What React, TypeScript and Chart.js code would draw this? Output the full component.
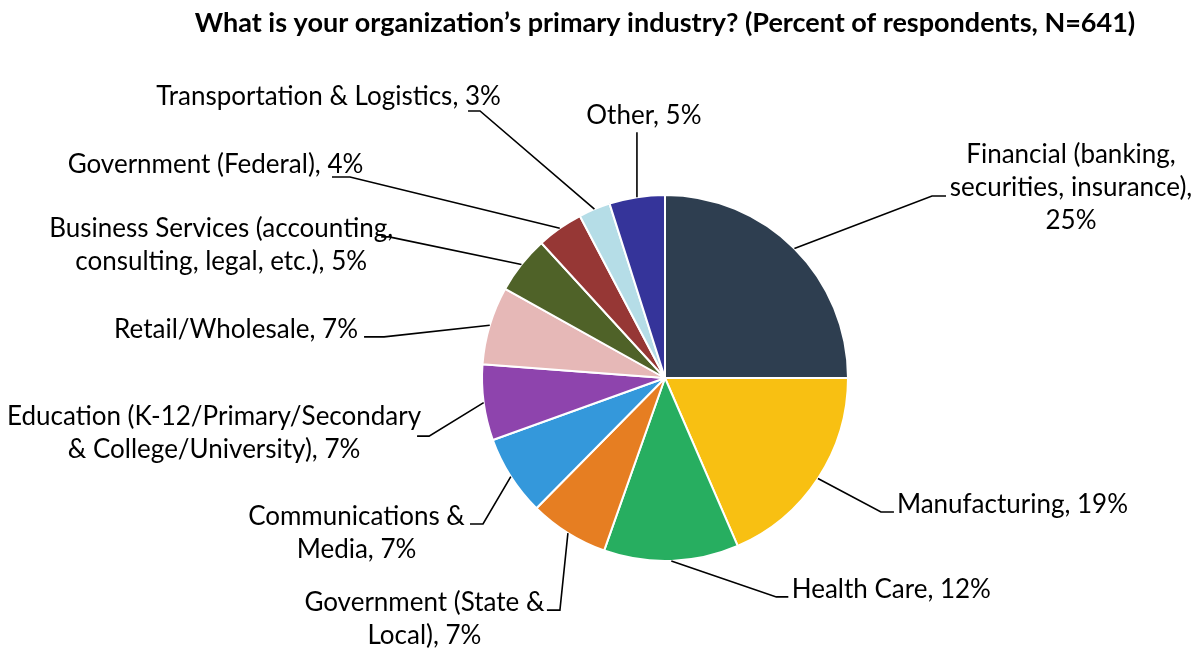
import React, { useEffect, useRef } from "react";
import { Chart, registerables } from "chart.js";

Chart.register(...registerables);

const TITLE = "What is your organization\u2019s primary industry? (Percent of respondents, N=641)";

const categories: string[][] = [
  ["Financial (banking,", "securities, insurance),"],
  ["Manufacturing"],
  ["Health Care"],
  ["Government (State &", "Local)"],
  ["Communications &", "Media"],
  ["Education (K-12/Primary/Secondary", "& College/University)"],
  ["Retail/Wholesale"],
  ["Business Services (accounting,", "consulting, legal, etc.)"],
  ["Government (Federal)"],
  ["Transportation & Logistics"],
  ["Other"],
];

const percentValues: number[] = [25.0, 18.5, 11.9, 7.0, 7.1, 6.7, 6.9, 5.1, 4.1, 2.8, 4.9];

const sliceColors: string[] = [
  "#2E3E50", "#F8C012", "#27AE60", "#E67E22", "#3498DB", "#8E44AD",
  "#E6B8B7", "#4F6228", "#963735", "#B5DDE7", "#35349A",
];

// label layout: text-block center offset (tx,ty) from slice edge anchor,
// elbow offset (ex,ey) from anchor, horizontal segment length sx from elbow
const labelLayout = [
  { tx: 276.6, ty: -60.6, ex: 137.6, ey: -52.6, sx: 14 },
  { tx: 194.5, ty: 26.5, ex: 63, ey: 33.5, sx: 13 },
  { tx: 220, ty: 29, ex: 105, ey: 36, sx: 12 },
  { tx: -143.5, ty: 86, ex: -8, ey: 77, sx: -13 },
  { tx: -154.3, ty: 57, ex: -27.8, ey: 47.4, sx: -13 },
  { tx: -269.6, ty: 30, ex: -54.6, ey: 33.5, sx: -12 },
  { tx: -253.7, ty: 4.6, ex: -105.7, ey: 11.6, sx: -20 },
  { tx: -300.3, ty: -19.6, ex: -132.3, ey: -27.6, sx: -8 },
  { tx: -344.3, ty: -63.3, ex: -209.8, ey: -51.3, sx: -18 },
  { tx: -265.9, ty: -112.2, ex: -114.4, ey: -98.2, sx: -12 },
  { tx: 7, ty: -82, ex: 0, ey: -65, sx: 0 },
];

const FONT = "Lato, 'Open Sans', sans-serif";

function buildLines(i: number): string[] {
  const pct = Math.round(percentValues[i]) + "%";
  const parts = categories[i];
  if (i === 0) return [parts[0], parts[1], pct];
  const lines = parts.slice(0, -1);
  lines.push(parts[parts.length - 1] + ", " + pct);
  return lines;
}

const labelPlugin = {
  id: "pieLabels",
  afterDraw(chart: any) {
    const ctx = chart.ctx as CanvasRenderingContext2D;
    const meta = chart.getDatasetMeta(0);
    ctx.save();
    // title
    ctx.fillStyle = "#000";
    ctx.font = `bold 27px ${FONT}`;
    ctx.textAlign = "center";
    ctx.textBaseline = "middle";
    const cx0 = (chart.chartArea.left + chart.chartArea.right) / 2;
    ctx.fillText(TITLE, cx0, 23);

    const lineH = 33;
    meta.data.forEach((arc: any, i: number) => {
      const p = arc.getProps(["x", "y", "startAngle", "endAngle", "outerRadius"], true);
      const mid = (p.startAngle + p.endAngle) / 2;
      const ax = p.x + Math.cos(mid) * p.outerRadius;
      const ay = p.y + Math.sin(mid) * p.outerRadius;
      const L = labelLayout[i];
      // leader
      ctx.strokeStyle = "#000";
      ctx.lineWidth = 1.6;
      ctx.beginPath();
      ctx.moveTo(ax, ay);
      ctx.lineTo(ax + L.ex, ay + L.ey);
      ctx.lineTo(ax + L.ex + L.sx, ay + L.ey);
      ctx.stroke();
      // text
      const lines = buildLines(i);
      ctx.font = `26px ${FONT}`;
      ctx.fillStyle = "#000";
      ctx.textAlign = "center";
      ctx.textBaseline = "middle";
      const tcx = ax + L.tx;
      const tcy = ay + L.ty;
      const top = tcy - ((lines.length - 1) * lineH) / 2;
      lines.forEach((ln, k) => ctx.fillText(ln, tcx, top + k * lineH));
    });
    ctx.restore();
  },
};

export default function App() {
  const ref = useRef<HTMLCanvasElement | null>(null);
  useEffect(() => {
    if (!ref.current) return;
    const chart = new Chart(ref.current, {
      type: "pie",
      data: {
        labels: categories.map((c) => c.join(" ")),
        datasets: [
          {
            data: percentValues,
            backgroundColor: sliceColors,
            borderColor: "#FFFFFF",
            borderWidth: 2,
            hoverOffset: 0,
            radius: 183,
          } as any,
        ],
      },
      options: {
        responsive: false,
        animation: false,
        events: [],
        layout: { padding: { left: 300, right: 170, top: 150, bottom: 44 } },
        plugins: {
          legend: { display: false },
          title: { display: false },
          tooltip: { enabled: false },
        },
      },
      plugins: [labelPlugin],
    });
    return () => chart.destroy();
  }, []);
  return (
    <div style={{ position: "fixed", left: 0, top: 0, width: 1200, height: 650, background: "#fff" }}>
      <canvas ref={ref} width={1200} height={650} style={{ width: 1200, height: 650 }} />
    </div>
  );
}
